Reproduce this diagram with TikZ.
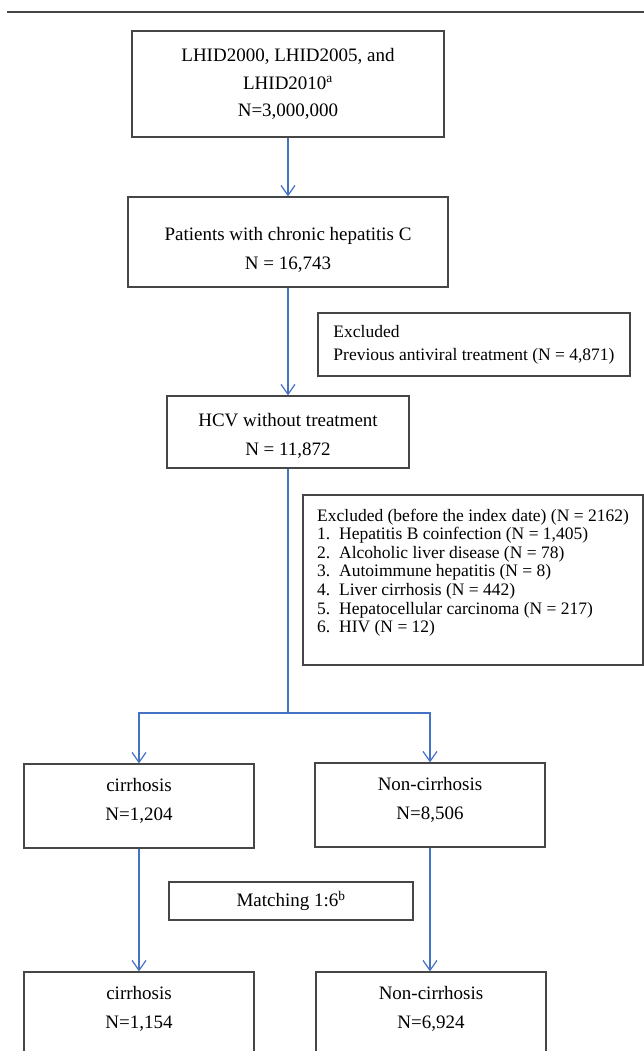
\documentclass[tikz,border=0pt]{standalone}
\usepackage{fontspec}
\setmainfont{Liberation Serif}
\usetikzlibrary{arrows.meta}
\definecolor{arrowblue}{RGB}{68,114,196}
\definecolor{boxgray}{RGB}{70,70,70}
\newcommand{\lowstrut}{\rule[-13pt]{0pt}{1pt}}
\begin{document}
\begin{tikzpicture}[x=1pt,y=-1pt,
  box/.style={draw=boxgray, line width=1.2pt, rectangle, inner sep=0pt, align=center, font=\fontsize{19}{29}\selectfont},
  exbox/.style={draw=boxgray, line width=1.2pt, rectangle, inner sep=0pt, align=left, font=\fontsize{17.5}{18.6}\selectfont},
  flow/.style={draw=arrowblue, line width=1.2pt, -{Straight Barb[length=10pt,width=14pt,line width=1.2pt]}},
  link/.style={draw=arrowblue, line width=1.2pt},
  rule/.style={draw=boxgray, line width=2pt},
]
\useasboundingbox (0,0) rectangle (644,1051);
\clip (0,0) rectangle (644,1051);
\coordinate (ruleL) at (7,12);
\coordinate (ruleR) at (644,12);
\draw[rule] (ruleL) -- (ruleR);

\node[box, minimum width=312pt, minimum height=106pt, font=\fontsize{19}{27.5}\selectfont] (b1) at (288,84) {LHID2000, LHID2005, and\\LHID2010\textsuperscript{a}\\N=3,000,000};
\node[box, minimum width=320pt, minimum height=90pt] (b2) at (288,242) {\rule{0pt}{29pt}Patients with chronic hepatitis C\\N = 16,743};
\node[exbox, minimum width=312pt, minimum height=63pt, font=\fontsize{17.5}{23}\selectfont] (ex1) at (474,344.5) {Excluded\\Previous antiviral treatment (N = 4,871)};
\node[box, minimum width=242pt, minimum height=72pt] (hcv) at (288,432) {\rule{0pt}{20pt}HCV without treatment\\N = 11,872};
\node[exbox, minimum width=340pt, minimum height=170pt] (ex2) at (473,580) {Excluded (before the index date) (N = 2162)\\
\makebox[22pt][l]{1.}Hepatitis B coinfection (N = 1,405)\\
\makebox[22pt][l]{2.}Alcoholic liver disease (N = 78)\\
\makebox[22pt][l]{3.}Autoimmune hepatitis (N = 8)\\
\makebox[22pt][l]{4.}Liver cirrhosis (N = 442)\\
\makebox[22pt][l]{5.}Hepatocellular carcinoma (N = 217)\\
\makebox[22pt][l]{6.}HIV (N = 12)\\
\mbox{}};
\coordinate (split) at (288,713);
\node[box, minimum width=230pt, minimum height=84pt] (c1) at (139,806) {cirrhosis\\N=1,204\lowstrut};
\node[box, minimum width=230pt, minimum height=84pt] (n1) at (430,805) {Non-cirrhosis\\N=8,506\lowstrut};
\node[box, minimum width=244pt, minimum height=38pt] (match) at (291,901) {Matching 1:6\textsuperscript{b}};
\node[box, minimum width=230pt, minimum height=84pt] (c2) at (139,1014) {cirrhosis\\N=1,154\lowstrut};
\node[box, minimum width=230pt, minimum height=84pt] (n2) at (431,1014) {Non-cirrhosis\\N=6,924\lowstrut};

\draw[flow] (b1.south) -- (b2.north);
\draw[flow] (b2.south) -- (hcv.north);
\draw[link] (hcv.south) -- (split);
\draw[flow] (split) -| (c1.north);
\draw[flow] (split) -| (n1.north);
\draw[flow] (c1.south) -- (c1.south |- c2.north);
\draw[flow] (n1.south) -- (n1.south |- n2.north);
\end{tikzpicture}
\end{document}
